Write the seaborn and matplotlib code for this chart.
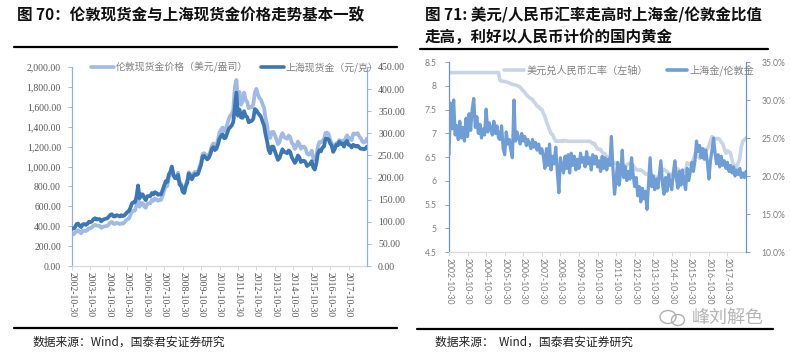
import numpy as np
import pandas as pd
import matplotlib
matplotlib.use("Agg")
import matplotlib.pyplot as plt
import matplotlib.ticker as ticker
from matplotlib.lines import Line2D
from matplotlib.patches import Ellipse
import seaborn as sns

# monthly readings, 2002-10 .. 2018-10
london_gold = [
    317, 319, 333,
    357, 359, 340, 328, 355, 356, 351, 360, 379, 379, 389, 407,
    414, 405, 406, 404, 383, 392, 398, 400, 405, 420, 439, 442,
    424, 423, 434, 429, 422, 430, 424, 437, 456, 470, 476, 510,
    549, 555, 557, 610, 690, 596, 633, 632, 598, 585, 627, 629,
    631, 665, 655, 679, 667, 655, 665, 665, 712, 754, 806, 803,
    889, 922, 990, 909, 888, 889, 939, 839, 829, 760, 740, 816,
    858, 943, 924, 890, 928, 946, 934, 949, 996, 1043, 1127, 1134,
    1118, 1095, 1113, 1148, 1205, 1232, 1193, 1215, 1271, 1343, 1370, 1391,
    1356, 1372, 1424, 1474, 1510, 1529, 1572, 1800, 1870, 1665, 1750, 1620,
    1656, 1742, 1673, 1650, 1585, 1596, 1594, 1626, 1744, 1780, 1721, 1688,
    1671, 1627, 1593, 1487, 1414, 1300, 1286, 1347, 1349, 1316, 1275, 1225,
    1244, 1300, 1336, 1299, 1287, 1279, 1311, 1296, 1239, 1222, 1176, 1201,
    1251, 1227, 1179, 1198, 1199, 1181, 1131, 1117, 1125, 1159, 1086, 1068,
    1097, 1200, 1246, 1242, 1260, 1276, 1337, 1341, 1326, 1267, 1236, 1157,
    1192, 1234, 1231, 1266, 1246, 1260, 1236, 1283, 1314, 1280, 1283, 1265,
    1331, 1331, 1325, 1335, 1303, 1282, 1250, 1240, 1250, 1280,
]
shanghai_gold = [
    84, 85, 88,
    95, 96, 91, 88, 94, 95, 93, 95, 100, 99, 101, 106,
    108, 105, 106, 106, 101, 104, 106, 107, 108, 112, 116, 117,
    112, 112, 115, 114, 112, 115, 113, 114, 118, 122, 124, 132,
    142, 144, 144, 157, 182, 153, 162, 162, 154, 149, 158, 158,
    158, 165, 162, 167, 165, 161, 162, 162, 172, 182, 192, 190,
    207, 213, 225, 206, 199, 198, 206, 184, 182, 168, 165, 180,
    189, 209, 204, 196, 203, 208, 206, 208, 219, 229, 248, 249,
    245, 241, 244, 252, 264, 269, 262, 265, 275, 288, 294, 298,
    289, 290, 300, 310, 314, 318, 326, 360, 392, 340, 354, 336,
    335, 350, 340, 337, 325, 327, 328, 333, 355, 352, 346, 342,
    337, 327, 318, 297, 282, 262, 255, 270, 270, 260, 250, 240,
    244, 254, 264, 258, 257, 255, 261, 258, 246, 240, 233, 239,
    250, 246, 235, 238, 238, 235, 226, 229, 231, 237, 223, 218,
    232, 254, 262, 259, 268, 270, 288, 288, 286, 277, 272, 258,
    265, 274, 273, 281, 276, 277, 270, 279, 283, 274, 273, 268,
    274, 272, 270, 272, 268, 265, 265, 264, 265, 270,
]
usd_cny = [
    8.277, 8.277, 8.277,
    8.277, 8.277, 8.277, 8.277, 8.277, 8.277, 8.277, 8.277, 8.277, 8.277, 8.277, 8.277,
    8.277, 8.277, 8.277, 8.277, 8.277, 8.277, 8.277, 8.277, 8.277, 8.277, 8.277, 8.277,
    8.277, 8.277, 8.277, 8.277, 8.277, 8.277, 8.11, 8.10, 8.09, 8.09, 8.08, 8.07,
    8.06, 8.04, 8.03, 8.02, 8.02, 8.00, 7.99, 7.97, 7.93, 7.89, 7.86, 7.81,
    7.78, 7.75, 7.73, 7.71, 7.66, 7.62, 7.57, 7.56, 7.51, 7.50, 7.42, 7.36,
    7.24, 7.16, 7.07, 6.99, 6.97, 6.89, 6.83, 6.84, 6.83, 6.84, 6.83, 6.85,
    6.84, 6.84, 6.83, 6.83, 6.83, 6.83, 6.83, 6.83, 6.83, 6.83, 6.83, 6.83,
    6.83, 6.83, 6.83, 6.83, 6.83, 6.81, 6.78, 6.79, 6.72, 6.67, 6.66, 6.66,
    6.60, 6.58, 6.57, 6.50, 6.49, 6.47, 6.45, 6.40, 6.38, 6.36, 6.34, 6.32,
    6.31, 6.30, 6.31, 6.31, 6.33, 6.36, 6.37, 6.36, 6.33, 6.27, 6.23, 6.23,
    6.22, 6.23, 6.21, 6.18, 6.14, 6.14, 6.13, 6.12, 6.12, 6.10, 6.09, 6.07,
    6.05, 6.08, 6.15, 6.23, 6.24, 6.22, 6.19, 6.16, 6.14, 6.12, 6.12, 6.19,
    6.23, 6.25, 6.22, 6.20, 6.20, 6.20, 6.21, 6.38, 6.36, 6.35, 6.38, 6.45,
    6.57, 6.55, 6.51, 6.47, 6.53, 6.59, 6.67, 6.65, 6.67, 6.74, 6.85, 6.93,
    6.89, 6.87, 6.89, 6.89, 6.87, 6.81, 6.78, 6.67, 6.58, 6.63, 6.61, 6.58,
    6.43, 6.33, 6.32, 6.29, 6.38, 6.47, 6.72, 6.84, 6.86, 6.90,
]
sh_ldn_ratio = [
    22.8, 29.6, 26.2,
    30.0, 25.4, 26.6, 24.8, 27.2, 25.0, 26.4, 24.6, 27.6, 25.2, 28.2, 26.0,
    28.8, 30.2, 26.4, 27.8, 25.6, 26.8, 25.0, 26.2, 25.4, 28.8, 25.8, 27.0,
    26.2, 25.4, 27.2, 25.6, 26.6, 25.0, 24.8, 26.6, 23.6, 22.8, 25.8, 24.2,
    24.8, 23.4, 22.4, 30.0, 24.6, 25.8, 25.0, 24.2, 25.6, 24.6, 25.2, 24.0,
    24.8, 24.2, 23.6, 24.8, 23.8, 24.4, 23.4, 24.2, 23.0, 23.6, 22.6, 21.0,
    23.6, 21.4, 24.2, 20.8, 22.6, 21.6, 23.8, 20.6, 17.8, 22.4, 21.4, 20.4,
    22.6, 21.0, 22.8, 20.4, 23.0, 21.4, 22.6, 20.8, 22.2, 21.0, 23.0, 21.8,
    22.4, 21.2, 23.2, 21.6, 22.4, 20.8, 22.8, 21.6, 22.6, 21.2, 22.0, 20.6,
    22.6, 21.0, 22.4, 20.8, 22.2, 21.4, 25.2, 21.0, 17.6, 19.4, 21.8, 18.8,
    20.6, 23.4, 19.8, 21.2, 19.4, 20.6, 19.6, 22.4, 20.2, 18.6, 19.8, 17.4,
    18.6, 16.6, 18.4, 17.0, 18.0, 15.6, 19.0, 22.4, 18.6, 20.0, 18.2, 19.6,
    18.4, 20.2, 22.0, 19.0, 17.6, 19.8, 18.0, 20.2, 19.0, 18.2, 20.4, 22.0,
    19.6, 18.4, 20.6, 18.8, 20.8, 19.2, 18.2, 21.0, 19.4, 20.6, 21.8, 20.6,
    22.0, 24.6, 23.2, 24.0, 22.4, 23.6, 22.2, 23.4, 21.8, 19.6, 22.0, 23.4,
    25.0, 23.0, 21.6, 22.8, 21.2, 22.6, 21.4, 22.0, 21.0, 21.8, 20.6, 21.4,
    20.4, 21.2, 20.0, 20.8, 20.2, 21.0, 19.8, 20.4, 19.8, 20.6,
]

tick_years = list(range(2002, 2018))
tick_labels = ["%d-10-30" % y for y in tick_years]
gold_usd_ticks = list(range(0, 2001, 200))
gold_cny_ticks = list(range(0, 451, 50))
fx_ticks = [4.5, 5, 5.5, 6, 6.5, 7, 7.5, 8, 8.5]
ratio_ticks = [10, 15, 20, 25, 30, 35]

dates = [pd.Timestamp(2002, 10, 30) + pd.DateOffset(months=i) for i in range(len(london_gold))]
df = pd.DataFrame({
    "date": dates,
    "london": london_gold,
    "shanghai": shanghai_gold,
    "fx": usd_cny,
    "ratio": sh_ldn_ratio,
})
tick_dates = [pd.Timestamp(y, 10, 30) for y in tick_years]

sns.set_theme(style="white")
plt.rcParams["font.family"] = ["Noto Sans CJK SC", "DejaVu Sans"]

c_ldn = "#9fbbe3"
c_sh = "#3d76b4"
c_fx = "#c9d5e6"
c_ratio = "#6f9dd6"

fig = plt.figure(figsize=(7.9, 3.55), dpi=100)
W, H = 790, 355

def box(x0, y0, x1, y1):
    return [x0 / W, 1 - y1 / H, (x1 - x0) / W, (y1 - y0) / H]

# ---------- left chart ----------
ax1 = fig.add_axes(box(72, 67, 367, 266))
ax1b = ax1.twinx()
sns.lineplot(data=df, x="date", y="london", ax=ax1, color=c_ldn, linewidth=2.7)
sns.lineplot(data=df, x="date", y="shanghai", ax=ax1b, color=c_sh, linewidth=2.7)

ax1.set_xlim(dates[0], dates[-1])
ax1.set_ylim(0, 2000)
ax1b.set_ylim(0, 450)
ax1.set_yticks(gold_usd_ticks)
ax1b.set_yticks(gold_cny_ticks)
ax1.yaxis.set_major_formatter(ticker.FuncFormatter(lambda v, p: f"{v:,.2f}"))
ax1b.yaxis.set_major_formatter(ticker.FuncFormatter(lambda v, p: f"{v:.2f}"))
ax1.set_xticks(tick_dates)
ax1.set_xticklabels(tick_labels, rotation=-90)
for a in (ax1, ax1b):
    a.set_xlabel("")
    a.set_ylabel("")
for lab in ax1.get_xticklabels() + ax1.get_yticklabels() + ax1b.get_yticklabels():
    lab.set_fontfamily(["Liberation Serif", "DejaVu Serif"])
    lab.set_fontsize(7)
    lab.set_color("#595959")
ax1.tick_params(axis="x", bottom=True, length=3, width=0.6, color="#d0d0d0", pad=1)
ax1.tick_params(axis="y", left=True, length=3, width=0.6, color="#8fb2de", pad=5)
ax1b.tick_params(axis="y", right=True, length=3, width=0.6, color="#8fb2de", pad=5)
for s in ("top", "right"):
    ax1.spines[s].set_visible(False)
for s in ("top", "left", "bottom"):
    ax1b.spines[s].set_visible(False)
ax1.spines["left"].set_color("#8fb2de")
ax1.spines["bottom"].set_color("#d9d9d9")
ax1b.spines["right"].set_color("#8fb2de")
for a in (ax1, ax1b):
    for s in a.spines.values():
        s.set_linewidth(0.9)

h1 = [Line2D([], [], color=c_ldn, lw=2.6), Line2D([], [], color=c_sh, lw=2.6)]
ax1b.legend(h1, ["伦敦现货金价格（美元/盎司）", "上海现货金（元/克）"],
            loc="center left", bbox_to_anchor=(0.065, 1.0), ncol=2, frameon=False,
            fontsize=7.1, handlelength=2.3, handletextpad=0.2, columnspacing=1.3,
            borderpad=0, borderaxespad=0, labelcolor="#808080")

# ---------- right chart ----------
ax2 = fig.add_axes(box(449, 62, 746, 252))
ax2b = ax2.twinx()
sns.lineplot(data=df, x="date", y="fx", ax=ax2, color=c_fx, linewidth=2.6)
sns.lineplot(data=df, x="date", y="ratio", ax=ax2b, color=c_ratio, linewidth=2.3)

ax2.set_xlim(dates[0], dates[-1])
ax2.set_ylim(4.5, 8.5)
ax2b.set_ylim(10, 35)
ax2.set_yticks(fx_ticks)
ax2b.set_yticks(ratio_ticks)
ax2.yaxis.set_major_formatter(ticker.FuncFormatter(lambda v, p: f"{v:g}"))
ax2b.yaxis.set_major_formatter(ticker.FuncFormatter(lambda v, p: f"{v:.1f}%"))
ax2.set_xticks(tick_dates)
ax2.set_xticklabels(tick_labels, rotation=-90)
for a in (ax2, ax2b):
    a.set_xlabel("")
    a.set_ylabel("")
for lab in ax2.get_xticklabels() + ax2.get_yticklabels() + ax2b.get_yticklabels():
    lab.set_fontfamily(["Lato", "DejaVu Sans"])
    lab.set_fontsize(6.2)
    lab.set_color("#7f7f7f")
ax2.tick_params(axis="x", bottom=True, length=3, width=0.6, color="#d0d0d0", pad=1)
ax2.tick_params(axis="y", left=True, length=3, width=0.6, color="#6a93c6", pad=6)
ax2b.tick_params(axis="y", right=True, length=3, width=0.6, color="#6a93c6", pad=8)
for s in ("top", "right"):
    ax2.spines[s].set_visible(False)
for s in ("top", "left", "bottom"):
    ax2b.spines[s].set_visible(False)
ax2.spines["left"].set_color("#6a93c6")
ax2.spines["bottom"].set_color("#d9d9d9")
ax2b.spines["right"].set_color("#6a93c6")
for a in (ax2, ax2b):
    for s in a.spines.values():
        s.set_linewidth(0.9)

h2 = [Line2D([], [], color=c_fx, lw=2.6), Line2D([], [], color=c_ratio, lw=2.6)]
ax2b.legend(h2, ["美元兑人民币汇率（左轴）", "上海金/伦敦金"],
            loc="center left", bbox_to_anchor=(0.185, 0.955), ncol=2, frameon=False,
            fontsize=7.3, handlelength=2.0, handletextpad=0.2, columnspacing=1.9,
            borderpad=0, borderaxespad=0, labelcolor="#808080")

# ---------- titles, rules, sources ----------
fig.text(17 / W, 1 - 15 / H, "图 70：伦敦现货金与上海现货金价格走势基本一致",
         fontsize=11.2, fontweight="bold", va="center", color="#111111")
fig.text(425 / W, 1 - 15 / H, "图 71: 美元/人民币汇率走高时上海金/伦敦金比值",
         fontsize=11.2, fontweight="bold", va="center", color="#111111")
fig.text(425 / W, 1 - 37 / H, "走高，利好以人民币计价的国内黄金",
         fontsize=11.2, fontweight="bold", va="center", color="#111111")

for x0, x1, y in [(14, 397, 47), (420, 768, 49), (14, 397, 328), (417, 773, 329)]:
    fig.add_artist(Line2D([x0 / W, x1 / W], [1 - y / H, 1 - y / H], color="black", lw=1.6))

fig.text(33 / W, 1 - 342 / H, "数据来源：Wind，国泰君安证券研究", fontsize=8.5, va="center",
         color="#222222")
fig.text(435 / W, 1 - 342 / H, "数据来源：  Wind，国泰君安证券研究", fontsize=8.5, va="center",
         color="#222222")

# watermark
fig.add_artist(Ellipse((668 / W, 1 - 317 / H), 16 / W, 13 / H, fill=False, ec="#b0b0b0", lw=1))
fig.add_artist(Ellipse((678 / W, 1 - 320 / H), 13 / W, 11 / H, fill=False, ec="#b0b0b0", lw=1))
fig.text(692 / W, 1 - 318 / H, "峰刘解色", fontsize=13, va="center", color="#b5b5b5")

fig.savefig("out.png", dpi=100)
